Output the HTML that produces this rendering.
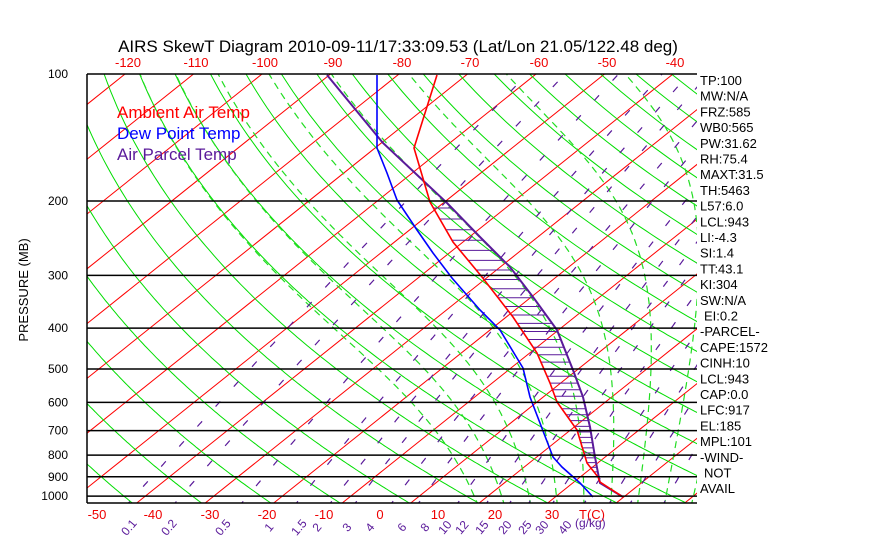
<!DOCTYPE html>
<html><head><meta charset="utf-8">
<style>
html,body{margin:0;padding:0;background:#fff;}
body{width:870px;height:560px;position:relative;overflow:hidden;font-family:"Liberation Sans",sans-serif;}
svg{position:absolute;left:0;top:0;}
</style></head><body>
<svg id="s" width="870" height="560" viewBox="0 0 870 560" xmlns="http://www.w3.org/2000/svg">
<defs><clipPath id="c"><rect x="87" y="74" width="610" height="429"/></clipPath></defs>
<g id="grid" clip-path="url(#c)"></g>
<g id="data" clip-path="url(#c)"></g>
<g id="axes" stroke="#000" stroke-width="1.5" fill="none"></g>
<text x="398" y="52" font-size="17" text-anchor="middle" fill="#000">AIRS SkewT Diagram 2010-09-11/17:33:09.53 (Lat/Lon 21.05/122.48 deg)</text>
<g font-size="13" fill="#e00" text-anchor="middle">
<text x="128" y="67">-120</text><text x="196" y="67">-110</text><text x="265" y="67">-100</text><text x="333" y="67">-90</text><text x="402" y="67">-80</text><text x="470" y="67">-70</text><text x="539" y="67">-60</text><text x="607" y="67">-50</text><text x="675" y="67">-40</text>
<text x="97" y="519">-50</text><text x="153" y="519">-40</text><text x="210" y="519">-30</text><text x="267" y="519">-20</text><text x="324" y="519">-10</text><text x="380" y="519">0</text><text x="438" y="519">10</text><text x="495" y="519">20</text><text x="552" y="519">30</text><text x="592" y="519">T(C)</text>
</g>
<g font-size="12" fill="#5a1a9a" id="wl"></g>
<g font-size="12" fill="#000" text-anchor="end" id="pl"></g>
<text transform="translate(28,290) rotate(-90)" font-size="13" text-anchor="middle" fill="#000">PRESSURE (MB)</text>
<g font-size="17">
<text x="117" y="118" fill="#f00">Ambient Air Temp</text>
<text x="117" y="139" fill="#00f">Dew Point Temp</text>
<text x="117" y="160" fill="#5a1a9a">Air Parcel Temp</text>
</g>
<g font-size="13" fill="#000" id="rl"></g>
</svg>
<script>
var NS="http://www.w3.org/2000/svg";
function el(p,t,a){var e=document.createElementNS(NS,t);for(var k in a)e.setAttribute(k,a[k]);p.appendChild(e);return e;}
function Y(p){return 74+183.3*Math.log(p/100);}
function X(T,p){return 673+6.85*(T+40)-1.25*(Y(p)-74);}
var g=document.getElementById('grid');
function poly(par,pts,attr){var d=pts.map(function(q,i){return (i?'L':'M')+q[0].toFixed(1)+' '+q[1].toFixed(1);}).join('');attr.d=d;attr.fill='none';return el(par,'path',attr);}
var ps=[];for(var p=1060;p>=95;p-=5)ps.push(p);
for(var T=-200;T<=60;T+=10){poly(g,[[X(T,1060),Y(1060)],[X(T,95),Y(95)]],{stroke:'#f00','stroke-width':1});}
for(var th=200;th<=520;th+=10){poly(g,ps.map(function(p){var T=th*Math.pow(p/1000,0.286)-273.15;return [X(T,p),Y(p)];}),{stroke:'#0d0','stroke-width':1});}
function es(T){return 6.112*Math.exp(17.67*T/(T+243.5));}
function step(Tk,pp){var e=es(Tk-273.15),rs=0.622*e/(pp-e);return (287*Tk+2.5e6*rs)/(pp*(1004+2.5e6*2.5e6*rs*0.622/(287*Tk*Tk)));}
for(var T0=8;T0<=40;T0+=4){var T=T0+273.15,Tk=T,pp,up=[],dn=[];
 for(pp=1000;pp>=100;pp-=2){up.push([X(Tk-273.15,pp),Y(pp)]);Tk-=step(Tk,pp)*2;}
 Tk=T;for(pp=1000;pp<=1060;pp+=2){dn.push([X(Tk-273.15,pp),Y(pp)]);Tk+=step(Tk,pp)*2;}
 poly(g,dn.reverse().concat(up),{stroke:'#2d2','stroke-width':1.2,'stroke-dasharray':'7,5'});}
var ws=[0.1,0.2,0.5,1,1.5,2,3,4,6,8,10,12,15,20,25,30,40];
ws.forEach(function(w){poly(g,ps.map(function(p){var e=w*p/(622+w),l=Math.log(e/6.112),Td=243.5*l/(17.67-l);return [X(Td,p),Y(p)];}),{stroke:'#5a1a9a','stroke-width':1.2,'stroke-dasharray':'7,20'});});
var wx=[132,172,226,272,302,320,350,373,405,428,448,465,485,508,528,545,568];
var wl=document.getElementById('wl');
ws.forEach(function(w,i){var t=el(wl,'text',{transform:'translate('+wx[i]+',530) rotate(-50)','text-anchor':'middle'});t.textContent=w;});
var tt=el(wl,'text',{x:575,y:527});tt.textContent='(g/kg)';
var ax=document.getElementById('axes');
[100,200,300,400,500,600,700,800,900,1000].forEach(function(p){el(ax,'line',{x1:87,x2:697,y1:Y(p),y2:Y(p)});var t=el(document.getElementById('pl'),'text',{x:68,y:Y(p)+4});t.textContent=p;});
el(ax,'line',{x1:87,x2:697,y1:503,y2:503});
el(ax,'line',{x1:87,x2:87,y1:74,y2:503});
var d=document.getElementById('data');
var tmp=[[437,75],[414,148],[430,202],[453,242],[482,277],[513,317],[537,353],[550,383],[557,402],[577,430],[587,463],[598,477],[600,482],[623,497]];
var dew=[[377,75],[377,148],[387,173],[397,200],[417,230],[433,253],[452,278],[480,310],[500,330],[523,368],[530,397],[553,457],[562,467],[580,483],[593,497]];
var par=[[327,75],[383,143],[447,203],[480,237],[493,250],[510,267],[533,297],[557,330],[573,370],[583,397],[590,427],[595,457],[598,473],[600,483],[623,497]];
function interp(arr,y){for(var i=0;i<arr.length-1;i++){if(y>=arr[i][1]&&y<=arr[i+1][1]){var f=(y-arr[i][1])/(arr[i+1][1]-arr[i][1]);return arr[i][0]+f*(arr[i+1][0]-arr[i][0]);}}return null;}
var y=208;while(y<482){var a=interp(tmp,y),b=interp(par,y);if(a!==null&&b!==null&&b>a)el(d,'line',{x1:a,x2:b,y1:y,y2:y,stroke:'#5a1a9a','stroke-width':1});y+=11-6.8*(y-208)/274;}
poly(d,par,{stroke:'#5a1a9a','stroke-width':2});
poly(d,dew,{stroke:'#00f','stroke-width':1.6});
poly(d,tmp,{stroke:'#f00','stroke-width':1.6});
var rl=["TP:100","MW:N/A","FRZ:585","WB0:565","PW:31.62","RH:75.4","MAXT:31.5","TH:5463","L57:6.0","LCL:943","LI:-4.3","SI:1.4","TT:43.1","KI:304","SW:N/A"," EI:0.2","-PARCEL-","CAPE:1572","CINH:10","LCL:943","CAP:0.0","LFC:917","EL:185","MPL:101","-WIND-","  NOT","AVAIL"];
var rg=document.getElementById('rl');
rl.forEach(function(s,i){var t=el(rg,'text',{x:s.charAt(0)==' '?704:700,y:85+i*15.7});t.textContent=s.trim();});
</script>
</body></html>
